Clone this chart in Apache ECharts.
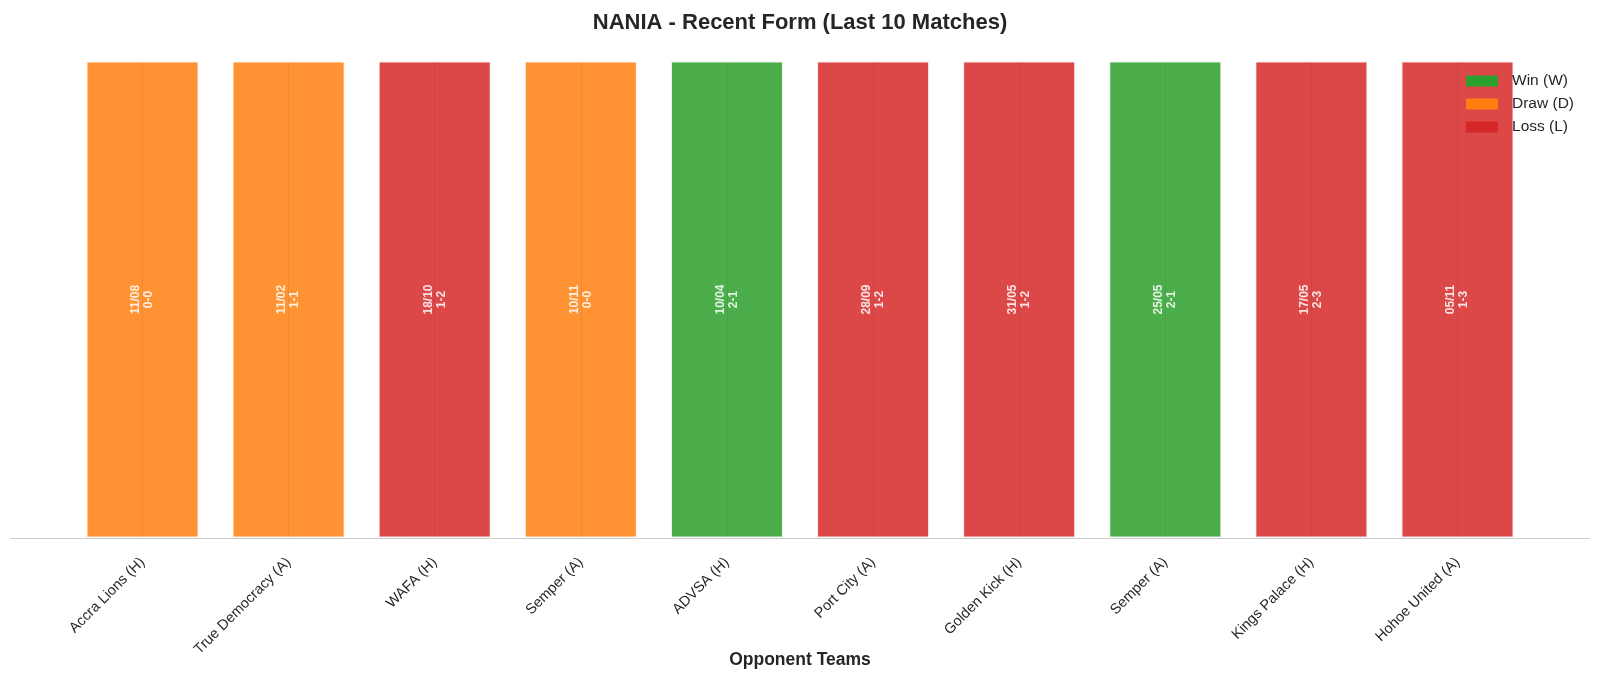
<!DOCTYPE html>
<html lang="en">
<head>
    <meta charset="UTF-8">
    <title>NANIA - Recent Form</title>
    <script src="https://cdn.jsdelivr.net/npm/echarts@6/dist/echarts.min.js"></script>
    <style>
        html, body { margin: 0; padding: 0; background: #ffffff; }
        #main { width: 1600px; height: 679px; }
    </style>
</head>
<body>
    <div id="main"></div>
    <script>
        // Match data
        var opponents = ['Accra Lions (H)', 'True Democracy (A)', 'WAFA (H)', 'Semper (A)', 'ADVSA (H)',
                         'Port City (A)', 'Golden Kick (H)', 'Semper (A)', 'Kings Palace (H)', 'Hohoe United (A)'];
        var dates = ['11/08', '11/02', '18/10', '10/11', '10/04', '28/09', '31/05', '25/05', '17/05', '05/11'];
        var scores = ['0-0', '1-1', '1-2', '0-0', '2-1', '1-2', '1-2', '2-1', '2-3', '1-3'];
        var results = ['D', 'D', 'L', 'D', 'W', 'L', 'L', 'W', 'L', 'L'];
        var heights = [1, 1, 1, 1, 1, 1, 1, 1, 1, 1];
        var positions = [0, 1, 2, 3, 4, 5, 6, 7, 8, 9];

        var outcomes = [
            { code: 'W', name: 'Win (W)', color: '#2ca02c' },
            { code: 'D', name: 'Draw (D)', color: '#ff7f0e' },
            { code: 'L', name: 'Loss (L)', color: '#d62728' }
        ];

        var font = "'Liberation Sans', Arial, sans-serif";
        var chart = echarts.init(document.getElementById('main'));

        // faint line through the middle of each bar
        var centerLines = positions.map(function (p) { return { xAxis: p }; });

        var series = outcomes.map(function (oc, k) {
            var data = [];
            results.forEach(function (r, i) {
                if (r === oc.code) {
                    data.push({ value: [positions[i], heights[i]], label: { formatter: dates[i] + '\n' + scores[i] } });
                }
            });
            var s = {
                name: oc.name,
                type: 'bar',
                stack: 'form',
                barWidth: 113,
                data: data,
                itemStyle: { color: oc.color, opacity: 0.85, borderColor: '#ffffff', borderWidth: 1.5 },
                label: {
                    show: true,
                    position: 'inside',
                    rotate: 90,
                    color: '#ffffff',
                    fontWeight: 'bold',
                    fontSize: 12,
                    lineHeight: 13,
                    fontFamily: font
                },
                emphasis: { disabled: true }
            };
            if (k === 0) {
                s.markLine = {
                    silent: true,
                    symbol: 'none',
                    label: { show: false },
                    lineStyle: { color: 'rgba(0,0,0,0.05)', type: 'solid', width: 1 },
                    data: centerLines,
                    z: 5
                };
            }
            return s;
        });

        var option = {
            backgroundColor: '#ffffff',
            animation: false,
            title: {
                text: 'NANIA - Recent Form (Last 10 Matches)',
                left: 'center',
                top: 7,
                textStyle: { fontSize: 22, fontWeight: 'bold', color: '#262626', fontFamily: font }
            },
            legend: {
                right: 21,
                top: 68,
                orient: 'vertical',
                align: 'left',
                icon: 'rect',
                itemWidth: 32,
                itemHeight: 11,
                itemGap: 7,
                itemStyle: { opacity: 1, borderWidth: 0 },
                textStyle: { fontSize: 15.5, color: '#262626', fontFamily: font, padding: [0, 0, 0, 9] },
                data: outcomes.map(function (oc) { return { name: oc.name, itemStyle: { color: oc.color } }; })
            },
            grid: { left: 11, right: 11, top: 61, bottom: 141, containLabel: false, outerBoundsMode: 'none' },
            xAxis: {
                type: 'value',
                min: -0.9,
                max: 9.9,
                name: 'Opponent Teams',
                nameLocation: 'middle',
                nameGap: 113,
                nameMoveOverlap: false,
                nameTextStyle: { fontSize: 17.5, fontWeight: 'bold', color: '#262626', fontFamily: font },
                axisLine: { show: true, lineStyle: { color: '#cccccc', width: 1 } },
                axisTick: { show: false, customValues: positions },
                splitLine: { show: false },
                axisLabel: {
                    customValues: positions,
                    rotate: 45,
                    margin: 22,
                    fontSize: 14.5,
                    color: '#262626',
                    fontFamily: font,
                    formatter: function (v) { return opponents[Math.round(v)]; }
                }
            },
            yAxis: {
                type: 'value',
                min: 0,
                max: 1,
                show: false,
                splitLine: { show: false }
            },
            series: series
        };

        chart.setOption(option);
    </script>
</body>
</html>
